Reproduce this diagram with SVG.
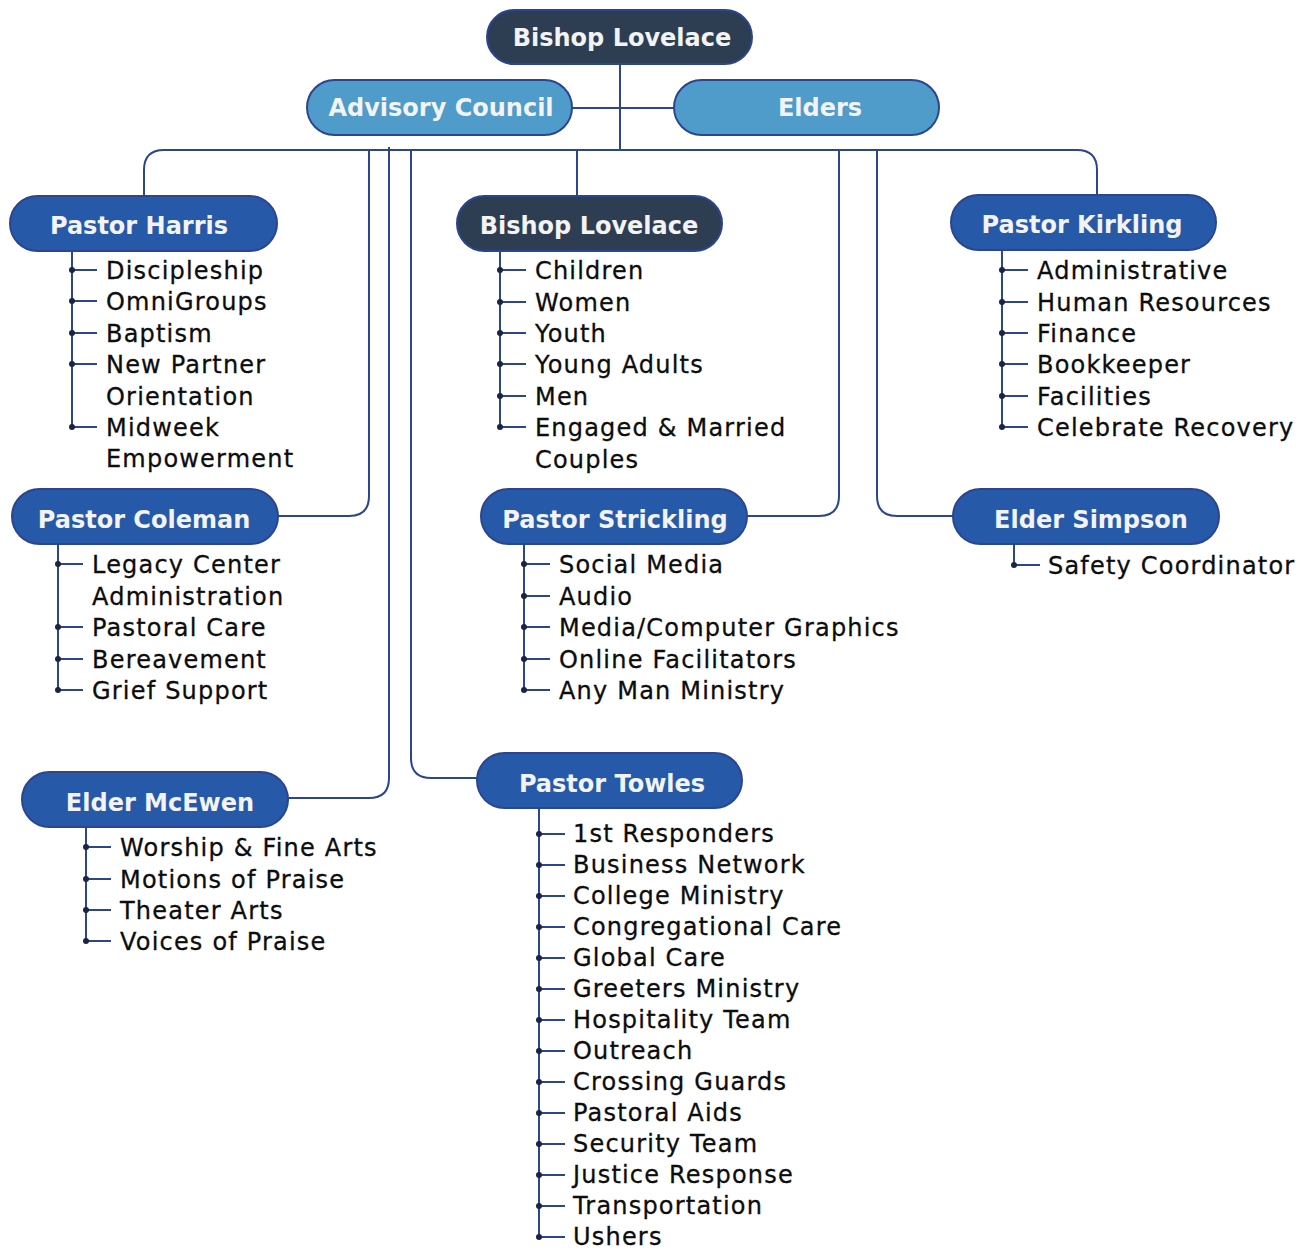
<svg xmlns="http://www.w3.org/2000/svg" width="1314" height="1252" viewBox="0 0 1314 1252">
<style>
.bg{fill:#ffffff}
.n{stroke:#2b4590;stroke-width:2}
.dark{fill:#2d3e52}
.blue{fill:#265aa9}
.light{fill:#4f9bc9}
.nt{font-family:"DejaVu Sans",sans-serif;font-weight:bold;font-size:24px;fill:#f3f3f3;text-anchor:middle}
.it{font-family:"DejaVu Sans",sans-serif;font-size:24px;fill:#0d0d0d;letter-spacing:1.2px;stroke:#0d0d0d;stroke-width:0.3px}
.c{fill:none;stroke:#2b4590;stroke-width:2}
.d{fill:#1b2444}
</style>
<rect class="bg" x="0" y="0" width="1314" height="1252"/>
<g id="connectors">
<path class="c" d="M620,64 V150"/>
<path class="c" d="M572,108 H674"/>
<path class="c" d="M144,196 V170 Q144,150 164,150 H1077 Q1097,150 1097,170 V195"/>
<path class="c" d="M369,150 V496 Q369,516 349,516 H278"/>
<path class="c" d="M389,147 V778 Q389,798 369,798 H288"/>
<path class="c" d="M411,150 V758 Q411,778 431,778 H478"/>
<path class="c" d="M577,150 V196"/>
<path class="c" d="M839,150 V496 Q839,516 819,516 H747"/>
<path class="c" d="M877,150 V496 Q877,516 897,516 H953"/>
</g>
<g id="bishop-top">
<rect class="n dark" x="487" y="10" width="265" height="54" rx="27"/>
<text class="nt" x="622" y="46">Bishop Lovelace</text>
</g>
<g id="advisory-council">
<rect class="n light" x="307" y="80" width="265" height="55" rx="27.5"/>
<text class="nt" x="441" y="116">Advisory Council</text>
</g>
<g id="elders">
<rect class="n light" x="674" y="80" width="265" height="55" rx="27.5"/>
<text class="nt" x="820" y="116">Elders</text>
</g>
<g id="pastor-harris">
<rect class="n blue" x="10" y="196" width="267" height="55" rx="27.5"/>
<text class="nt" x="139" y="234">Pastor Harris</text>
<path class="c" d="M72,251 V427 M72,270 H97 M72,301 H97 M72,333 H97 M72,364 H97 M72,427 H97"/>
<circle class="d" cx="72" cy="270" r="3"/><circle class="d" cx="72" cy="301" r="3"/><circle class="d" cx="72" cy="333" r="3"/><circle class="d" cx="72" cy="364" r="3"/><circle class="d" cx="72" cy="427" r="3"/>
<text class="it" x="106" y="279">Discipleship</text>
<text class="it" x="106" y="310">OmniGroups</text>
<text class="it" x="106" y="342">Baptism</text>
<text class="it" x="106" y="373">New Partner</text>
<text class="it" x="106" y="405">Orientation</text>
<text class="it" x="106" y="436">Midweek</text>
<text class="it" x="106" y="467">Empowerment</text>
</g>
<g id="bishop-lovelace">
<rect class="n dark" x="457" y="196" width="265" height="55" rx="27.5"/>
<text class="nt" x="589" y="234">Bishop Lovelace</text>
<path class="c" d="M500,251 V427 M500,270 H526 M500,302 H526 M500,333 H526 M500,364 H526 M500,396 H526 M500,427 H526"/>
<circle class="d" cx="500" cy="270" r="3"/><circle class="d" cx="500" cy="302" r="3"/><circle class="d" cx="500" cy="333" r="3"/><circle class="d" cx="500" cy="364" r="3"/><circle class="d" cx="500" cy="396" r="3"/><circle class="d" cx="500" cy="427" r="3"/>
<text class="it" x="535" y="279">Children</text>
<text class="it" x="535" y="311">Women</text>
<text class="it" x="535" y="342">Youth</text>
<text class="it" x="535" y="373">Young Adults</text>
<text class="it" x="535" y="405">Men</text>
<text class="it" x="535" y="436">Engaged &amp; Married</text>
<text class="it" x="535" y="468">Couples</text>
</g>
<g id="pastor-kirkling">
<rect class="n blue" x="951" y="195" width="265" height="55" rx="27.5"/>
<text class="nt" x="1082" y="233">Pastor Kirkling</text>
<path class="c" d="M1002,250 V427 M1002,270 H1028 M1002,302 H1028 M1002,333 H1028 M1002,364 H1028 M1002,396 H1028 M1002,427 H1028"/>
<circle class="d" cx="1002" cy="270" r="3"/><circle class="d" cx="1002" cy="302" r="3"/><circle class="d" cx="1002" cy="333" r="3"/><circle class="d" cx="1002" cy="364" r="3"/><circle class="d" cx="1002" cy="396" r="3"/><circle class="d" cx="1002" cy="427" r="3"/>
<text class="it" x="1037" y="279">Administrative</text>
<text class="it" x="1037" y="311">Human Resources</text>
<text class="it" x="1037" y="342">Finance</text>
<text class="it" x="1037" y="373">Bookkeeper</text>
<text class="it" x="1037" y="405">Facilities</text>
<text class="it" x="1037" y="436">Celebrate Recovery</text>
</g>
<g id="pastor-coleman">
<rect class="n blue" x="12" y="489" width="266" height="55" rx="27.5"/>
<text class="nt" x="144" y="528">Pastor Coleman</text>
<path class="c" d="M58,544 V690 M58,564 H83 M58,627 H83 M58,659 H83 M58,690 H83"/>
<circle class="d" cx="58" cy="564" r="3"/><circle class="d" cx="58" cy="627" r="3"/><circle class="d" cx="58" cy="659" r="3"/><circle class="d" cx="58" cy="690" r="3"/>
<text class="it" x="92" y="573">Legacy Center</text>
<text class="it" x="92" y="605">Administration</text>
<text class="it" x="92" y="636">Pastoral Care</text>
<text class="it" x="92" y="668">Bereavement</text>
<text class="it" x="92" y="699">Grief Support</text>
</g>
<g id="pastor-strickling">
<rect class="n blue" x="481" y="489" width="266" height="55" rx="27.5"/>
<text class="nt" x="615" y="528">Pastor Strickling</text>
<path class="c" d="M524,544 V690 M524,564 H550 M524,596 H550 M524,627 H550 M524,659 H550 M524,690 H550"/>
<circle class="d" cx="524" cy="564" r="3"/><circle class="d" cx="524" cy="596" r="3"/><circle class="d" cx="524" cy="627" r="3"/><circle class="d" cx="524" cy="659" r="3"/><circle class="d" cx="524" cy="690" r="3"/>
<text class="it" x="559" y="573">Social Media</text>
<text class="it" x="559" y="605">Audio</text>
<text class="it" x="559" y="636">Media/Computer Graphics</text>
<text class="it" x="559" y="668">Online Facilitators</text>
<text class="it" x="559" y="699">Any Man Ministry</text>
</g>
<g id="elder-simpson">
<rect class="n blue" x="953" y="489" width="266" height="55" rx="27.5"/>
<text class="nt" x="1091" y="528">Elder Simpson</text>
<path class="c" d="M1014,544 V565 H1040"/>
<circle class="d" cx="1014" cy="565" r="3"/>
<text class="it" x="1048" y="574">Safety Coordinator</text>
</g>
<g id="elder-mcewen">
<rect class="n blue" x="22" y="772" width="266" height="55" rx="27.5"/>
<text class="nt" x="160" y="811">Elder McEwen</text>
<path class="c" d="M86,827 V941 M86,847 H111 M86,879 H111 M86,910 H111 M86,941 H111"/>
<circle class="d" cx="86" cy="847" r="3"/><circle class="d" cx="86" cy="879" r="3"/><circle class="d" cx="86" cy="910" r="3"/><circle class="d" cx="86" cy="941" r="3"/>
<text class="it" x="120" y="856">Worship &amp; Fine Arts</text>
<text class="it" x="120" y="888">Motions of Praise</text>
<text class="it" x="120" y="919">Theater Arts</text>
<text class="it" x="120" y="950">Voices of Praise</text>
</g>
<g id="pastor-towles">
<rect class="n blue" x="477" y="753" width="265" height="55" rx="27.5"/>
<text class="nt" x="612" y="792">Pastor Towles</text>
<path class="c" d="M539,808 V1237 M539,834 H565 M539,865 H565 M539,896 H565 M539,927 H565 M539,958 H565 M539,989 H565 M539,1020 H565 M539,1051 H565 M539,1082 H565 M539,1113 H565 M539,1144 H565 M539,1175 H565 M539,1206 H565 M539,1237 H565"/>
<circle class="d" cx="539" cy="834" r="3"/><circle class="d" cx="539" cy="865" r="3"/><circle class="d" cx="539" cy="896" r="3"/><circle class="d" cx="539" cy="927" r="3"/><circle class="d" cx="539" cy="958" r="3"/><circle class="d" cx="539" cy="989" r="3"/><circle class="d" cx="539" cy="1020" r="3"/><circle class="d" cx="539" cy="1051" r="3"/><circle class="d" cx="539" cy="1082" r="3"/><circle class="d" cx="539" cy="1113" r="3"/><circle class="d" cx="539" cy="1144" r="3"/><circle class="d" cx="539" cy="1175" r="3"/><circle class="d" cx="539" cy="1206" r="3"/><circle class="d" cx="539" cy="1237" r="3"/>
<text class="it" x="573" y="842">1st Responders</text>
<text class="it" x="573" y="873">Business Network</text>
<text class="it" x="573" y="904">College Ministry</text>
<text class="it" x="573" y="935">Congregational Care</text>
<text class="it" x="573" y="966">Global Care</text>
<text class="it" x="573" y="997">Greeters Ministry</text>
<text class="it" x="573" y="1028">Hospitality Team</text>
<text class="it" x="573" y="1059">Outreach</text>
<text class="it" x="573" y="1090">Crossing Guards</text>
<text class="it" x="573" y="1121">Pastoral Aids</text>
<text class="it" x="573" y="1152">Security Team</text>
<text class="it" x="573" y="1183">Justice Response</text>
<text class="it" x="573" y="1214">Transportation</text>
<text class="it" x="573" y="1245">Ushers</text>
</g>
</svg>
